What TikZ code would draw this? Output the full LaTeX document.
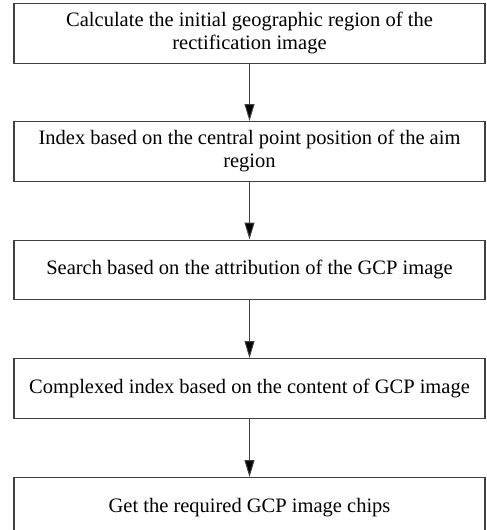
\documentclass[tikz,border=0pt]{standalone}
\usepackage{fontspec}
\setmainfont{Liberation Serif}
\usetikzlibrary{arrows.meta}
\begin{document}
\begin{tikzpicture}[x=1pt,y=1pt,
  stepbox/.style={draw=black!75,line width=1.1pt,minimum width=471pt,minimum height=59.5pt,
    inner sep=0pt,align=center,font=\fontsize{20.5}{23}\selectfont,anchor=north},
  conn/.style={draw=black!75,line width=1pt,-{Triangle[length=17pt,width=10pt,fill=black]}}]
\useasboundingbox (0,0) rectangle (487,-530);
\begin{scope}
\clip (0,0) rectangle (487,-530);
\node[stepbox] (b1) at (249.5,-3) {Calculate the initial geographic region of the\\rectification image};
\node[stepbox] (b2) at (249.5,-121) {Index based on the central point position of the aim\\region};
\node[stepbox] (b3) at (249.5,-239.5) {Search based on the attribution of the GCP image};
\node[stepbox] (b4) at (249.5,-358) {Complexed index based on the content of GCP image};
\node[stepbox] (b5) at (249.5,-477) {Get the required GCP image chips};
\end{scope}
\draw[conn] (b1.south) -- (b2.north);
\draw[conn] (b2.south) -- (b3.north);
\draw[conn] (b3.south) -- (b4.north);
\draw[conn] (b4.south) -- (b5.north);
\end{tikzpicture}
\end{document}
